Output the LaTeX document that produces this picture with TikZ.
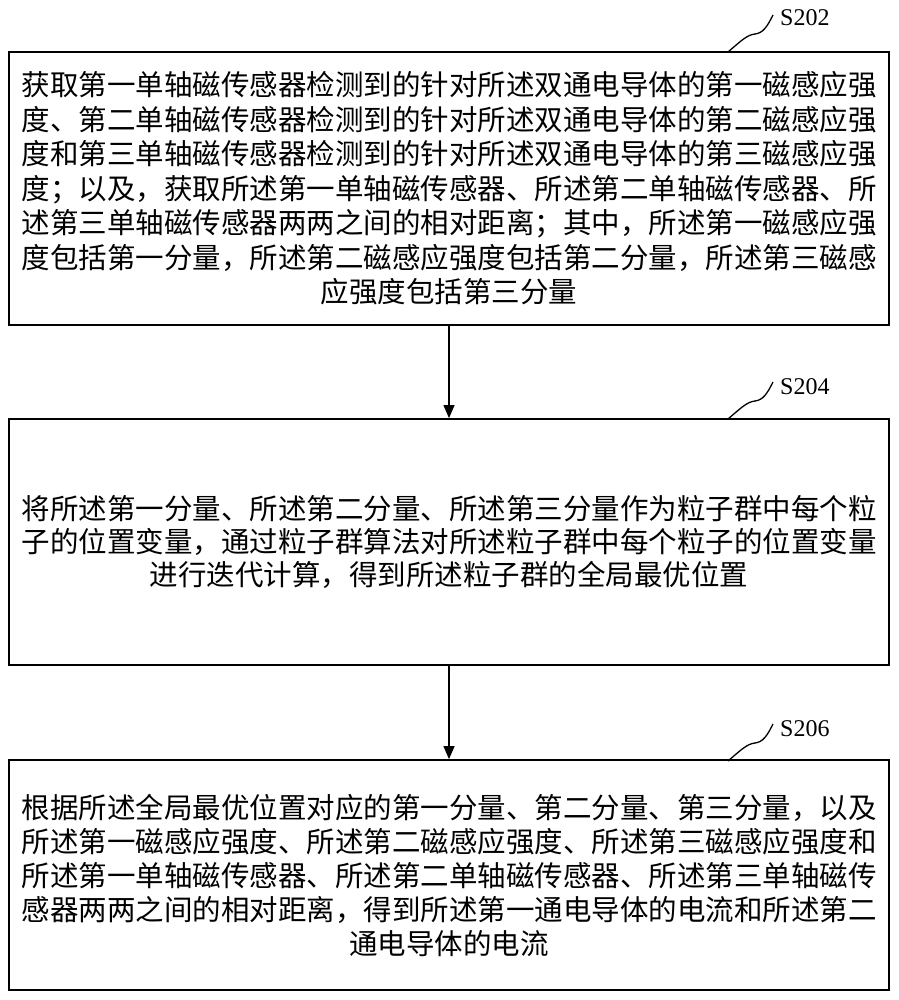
\documentclass[tikz,border=0pt]{standalone}
\usepackage{fontspec}
\setmainfont{Liberation Serif}
\newfontfamily\cjk{Noto Sans CJK SC}
\usetikzlibrary{arrows.meta}
\begin{document}
\begin{tikzpicture}[x=1pt,y=-1pt,
  stepbox/.style={draw,line width=1.8pt,minimum width=880pt,inner sep=0pt,align=center,
    font=\cjk\fontsize{28.5}{33}\selectfont},
  lbl/.style={font=\fontsize{24}{24}\selectfont,anchor=west,inner sep=0pt},
  lead/.style={line width=1.3pt},
  flow/.style={line width=1.3pt,-{Triangle[length=13pt,width=11pt]}}]
\useasboundingbox (0,0) rectangle (898,1000);

\node[stepbox,minimum height=273pt,font=\cjk\fontsize{28.5}{34.5}\selectfont] (b1) at (449,188.5) {%
获取第一单轴磁传感器检测到的针对所述双通电导体的第一磁感应强\\
度、第二单轴磁传感器检测到的针对所述双通电导体的第二磁感应强\\
度和第三单轴磁传感器检测到的针对所述双通电导体的第三磁感应强\\
度；以及，获取所述第一单轴磁传感器、所述第二单轴磁传感器、所\\
述第三单轴磁传感器两两之间的相对距离；其中，所述第一磁感应强\\
度包括第一分量，所述第二磁感应强度包括第二分量，所述第三磁感\\
应强度包括第三分量};

\node[stepbox,minimum height=246pt] (b2) at (449,542) {%
将所述第一分量、所述第二分量、所述第三分量作为粒子群中每个粒\\
子的位置变量，通过粒子群算法对所述粒子群中每个粒子的位置变量\\
进行迭代计算，得到所述粒子群的全局最优位置};

\node[stepbox,minimum height=230pt,font=\cjk\fontsize{28.5}{34}\selectfont] (b3) at (449,875) {%
根据所述全局最优位置对应的第一分量、第二分量、第三分量，以及\\
所述第一磁感应强度、所述第二磁感应强度、所述第三磁感应强度和\\
所述第一单轴磁传感器、所述第二单轴磁传感器、所述第三单轴磁传\\
感器两两之间的相对距离，得到所述第一通电导体的电流和所述第二\\
通电导体的电流};

\draw[flow] (b1.south) -- (b2.north);
\draw[flow] (b2.south) -- (b3.north);

\coordinate (c1) at (728,52);
\coordinate (c2) at (728,419);
\coordinate (c3) at (728,761);
\node[lbl] (s1) at (780,18) {S202};
\node[lbl] (s2) at (780,387) {S204};
\node[lbl] (s3) at (780,729) {S206};
\draw[lead] (c1) .. controls +(14,-12) and +(-8,1) .. ++(27,-18) .. controls +(8,-1) and +(-6,12) .. ++(18,-19);
\draw[lead] (c2) .. controls +(14,-12) and +(-8,1) .. ++(27,-18) .. controls +(8,-1) and +(-6,12) .. ++(18,-19);
\draw[lead] (c3) .. controls +(14,-12) and +(-8,1) .. ++(27,-18) .. controls +(8,-1) and +(-6,12) .. ++(18,-19);
\end{tikzpicture}
\end{document}
